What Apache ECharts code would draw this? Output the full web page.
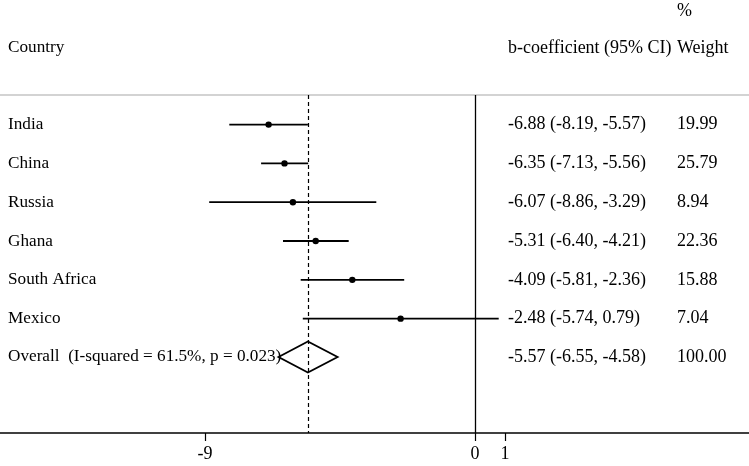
<!DOCTYPE html>
<html>
<head>
<meta charset="utf-8">
<script src="https://cdn.jsdelivr.net/npm/echarts@6/dist/echarts.min.js"></script>
<style>html,body{margin:0;padding:0;background:#fff}#c{width:749px;height:466px}</style>
</head>
<body>
<div id="c"></div>
<script>
const countries = ['India', 'China', 'Russia', 'Ghana', 'South Africa', 'Mexico'];
const estimates = [-6.88, -6.35, -6.07, -5.31, -4.09, -2.48];
const lowerCI = [-8.19, -7.13, -8.86, -6.40, -5.81, -5.74];
const upperCI = [-5.57, -5.56, -3.29, -4.21, -2.36, 0.79];
const weights = [19.99, 25.79, 8.94, 22.36, 15.88, 7.04];
const overallLabel = 'Overall  (I-squared = 61.5%, p = 0.023)';
const overall = { est: -5.57, lo: -6.55, hi: -4.58, weight: 100.00 };
const xTicks = [-9, 0, 1];

const FONT = '18px "Liberation Serif", "Times New Roman", serif';
const FONT_L = '17.2px "Liberation Serif", "Times New Roman", serif';
const chart = echarts.init(document.getElementById('c'), null, { renderer: 'canvas' });

const studyData = countries.map((c, i) => [i, estimates[i], lowerCI[i], upperCI[i], weights[i]]);
const overallIdx = countries.length;

function txt(x, y, s, f) {
  return { type: 'text', x: x, y: y, style: { text: s, font: f || FONT, fill: '#000', verticalAlign: 'middle', align: 'left' } };
}
function ciText(e, l, h) {
  return e.toFixed(2) + ' (' + l.toFixed(2) + ', ' + h.toFixed(2) + ')';
}

const option = {
  animation: false,
  backgroundColor: '#fff',
  grid: { left: 0, right: 0, top: 95, bottom: 33, containLabel: false },
  xAxis: {
    type: 'value', min: -15.833, max: 9.133,
    splitLine: { show: false },
    axisLine: { show: true, onZero: false, lineStyle: { color: '#000', width: 1.5 } },
    axisTick: { show: true, length: 8, lineStyle: { color: '#000', width: 1.2 }, customValues: xTicks },
    axisLabel: { show: true, margin: 12, color: '#000', fontFamily: '"Liberation Serif", serif', fontSize: 18, customValues: xTicks, formatter: v => String(v) }
  },
  yAxis: { type: 'value', inverse: true, min: -0.75, max: 7.96, show: false },
  graphic: [
    { type: 'line', shape: { x1: 0, y1: 95, x2: 749, y2: 95 }, style: { stroke: '#c4c4c4', lineWidth: 1.5 } },
    { type: 'text', left: 8, top: 39, style: { text: 'Country', font: FONT_L, fill: '#000' } },
    { type: 'text', left: 508, top: 39, style: { text: 'b-coefficient (95% CI)', font: FONT, fill: '#000' } },
    { type: 'text', left: 677, top: 39, style: { text: 'Weight', font: FONT, fill: '#000' } },
    { type: 'text', left: 677, top: 2, style: { text: '%', font: FONT, fill: '#000' } }
  ],
  series: [
    {
      type: 'custom',
      coordinateSystem: 'cartesian2d',
      data: studyData,
      clip: false,
      encode: { x: [1, 2, 3], y: 0 },
      markLine: {
        silent: true, symbol: 'none', label: { show: false },
        data: [
          { xAxis: 0, lineStyle: { color: '#000', width: 1.3, type: 'solid' } },
          { xAxis: overall.est, lineStyle: { color: '#000', width: 1.2, type: [4, 3] } }
        ]
      },
      renderItem: function (params, api) {
        const idx = api.value(0);
        const e = api.value(1), l = api.value(2), h = api.value(3), w = api.value(4);
        const pE = api.coord([e, idx]);
        const pL = api.coord([l, idx]);
        const pH = api.coord([h, idx]);
        const y = pE[1] + 0.5;
        return {
          type: 'group',
          children: [
            { type: 'line', shape: { x1: pL[0], y1: y, x2: pH[0], y2: y }, style: { stroke: '#000', lineWidth: 1.8 } },
            { type: 'circle', shape: { cx: pE[0], cy: y, r: 3.2 }, style: { fill: '#000' } },
            txt(8, y, countries[idx], FONT_L),
            txt(508, y, ciText(e, l, h)),
            txt(677, y, w.toFixed(2))
          ]
        };
      }
    },
    {
      type: 'custom',
      coordinateSystem: 'cartesian2d',
      data: [[overallIdx, overall.est, overall.lo, overall.hi, overall.weight]],
      clip: false,
      encode: { x: [1, 2, 3], y: 0 },
      renderItem: function (params, api) {
        const idx = api.value(0);
        const e = api.value(1), l = api.value(2), h = api.value(3), w = api.value(4);
        const pE = api.coord([e, idx]);
        const pL = api.coord([l, idx]);
        const pH = api.coord([h, idx]);
        const top = api.coord([e, idx - 0.4]);
        const bot = api.coord([e, idx + 0.4]);
        const y = pE[1];
        return {
          type: 'group',
          children: [
            txt(8, y, overallLabel, FONT_L),
            { type: 'polygon', shape: { points: [[pL[0], y], [top[0], top[1]], [pH[0], y], [bot[0], bot[1]]] }, style: { fill: 'rgba(0,0,0,0)', stroke: '#000', lineWidth: 1.8 } },
            txt(508, y, ciText(e, l, h)),
            txt(677, y, w.toFixed(2))
          ]
        };
      }
    }
  ]
};
chart.setOption(option);
</script>
</body>
</html>
